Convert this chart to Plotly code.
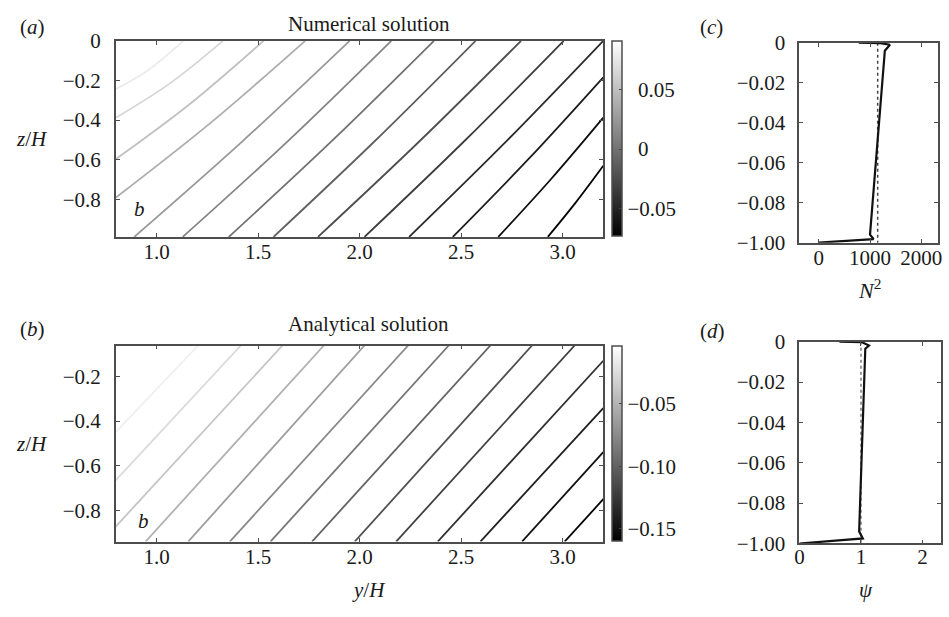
import plotly.graph_objects as go
from plotly.colors import sample_colorscale

W, H = 949, 617
FONT = "Liberation Serif, Times New Roman, serif"
FS = 21
INK = "#1a1a1a"
FRAME = "#4d4d4d"
GRAYS = [[0.0, "rgb(0,0,0)"], [1.0, "rgb(255,255,255)"]]

# ---------------- data ----------------
# (a) numerical solution: buoyancy contour levels and their traced paths (y/H, z/H)
num_levels = [0.080, 0.0685, 0.057, 0.0455, 0.034, 0.0225, 0.011,
              -0.0005, -0.012, -0.0235, -0.035, -0.0465, -0.058, -0.0695]
num_x = [[0.800, 0.953, 1.132], [0.800, 1.064, 1.327], [0.800, 1.164, 1.527],
         [0.800, 1.266, 1.732], [0.890, 1.420, 1.951], [1.129, 1.643, 2.156],
         [1.356, 1.861, 2.366], [1.576, 2.074, 2.571], [1.795, 2.295, 2.795],
         [2.024, 2.515, 3.005], [2.244, 2.722, 3.200], [2.459, 2.830, 3.200],
         [2.683, 2.942, 3.200], [2.927, 3.064, 3.200]]
num_z = [[-0.243, -0.152, 0.0], [-0.388, -0.216, 0.0], [-0.597, -0.319, 0.0],
         [-0.791, -0.414, 0.0], [-0.990, -0.510, 0.0], [-0.990, -0.510, 0.0],
         [-0.990, -0.508, 0.0], [-0.990, -0.507, 0.0], [-0.990, -0.507, 0.0],
         [-0.990, -0.507, 0.0], [-0.990, -0.508, 0.0], [-0.990, -0.599, -0.184],
         [-0.990, -0.699, -0.388], [-0.990, -0.817, -0.631]]
num_crange = [-0.073, 0.091]
num_cticks = [-0.05, 0.0, 0.05]
num_cticktext = ["\u22120.05", "\u20020", "\u20020.05"]

# (b) analytical solution: straight buoyancy contours
ana_levels = [-0.012, -0.023, -0.034, -0.045, -0.056, -0.067, -0.078,
              -0.089, -0.100, -0.111, -0.122, -0.133, -0.144, -0.155]
ana_x = [[0.800, 1.205], [0.800, 1.415], [0.800, 1.620], [0.946, 1.824],
         [1.156, 2.024], [1.361, 2.239], [1.561, 2.439], [1.766, 2.644],
         [1.976, 2.849], [2.180, 3.059], [2.385, 3.200], [2.595, 3.200],
         [2.800, 3.200], [3.010, 3.200]]
ana_z = [[-0.449, -0.063], [-0.664, -0.063], [-0.870, -0.063], [-0.938, -0.063],
         [-0.938, -0.063], [-0.938, -0.063], [-0.938, -0.063], [-0.938, -0.063],
         [-0.938, -0.063], [-0.938, -0.063], [-0.938, -0.131], [-0.938, -0.342],
         [-0.938, -0.539], [-0.938, -0.749]]
ana_crange = [-0.160, -0.004]
ana_cticks = [-0.15, -0.10, -0.05]
ana_cticktext = ["\u22120.15", "\u22120.10", "\u22120.05"]

yh_ticks = [1.0, 1.5, 2.0, 2.5, 3.0]
yh_ticktext = ["1.0", "1.5", "2.0", "2.5", "3.0"]
zh_ticks = [0.0, -0.2, -0.4, -0.6, -0.8]
zh_ticktext = ["0", "\u22120.2", "\u22120.4", "\u22120.6", "\u22120.8"]

# (c) stratification profile N^2(z) and its reference value
n2_z = [0.0, -0.002, -0.010, -0.040, -0.960, -0.982, -1.0]
n2_val = [780, 1200, 1390, 1290, 1000, 1070, 0]
n2_ref = 1150
n2_ticks = [0, 1000, 2000]

# (d) psi(z) profile and its reference value
psi_z = [0.0, -0.003, -0.019, -0.035, -0.940, -0.975, -1.0]
psi_val = [0.65, 1.02, 1.13, 1.07, 0.97, 1.03, 0.0]
psi_ref = 1.0
psi_ticks = [0, 1, 2]

prof_zticks = [0.0, -0.2, -0.4, -0.6, -0.8, -1.0]
prof_zticktext = ["0", "\u22120.02", "\u22120.04", "\u22120.06", "\u22120.08", "\u22121.00"]


def px(x):
    return x / W


def py(y):
    return 1 - y / H


fig = go.Figure()


def add_contours(levels, xs, zs, crange, xa, ya, spline):
    span = crange[1] - crange[0]
    for lev, xx, zz in zip(levels, xs, zs):
        # thin lines read lighter than the bar, so sample a touch darker
        t = ((lev - crange[0]) / span) ** 1.2
        col = sample_colorscale(GRAYS, [t])[0]
        fig.add_trace(go.Scatter(
            x=xx, y=zz, mode="lines", xaxis=xa, yaxis=ya,
            line=dict(color=col, width=1.8,
                      shape="spline" if spline else "linear", smoothing=1.0),
            hoverinfo="skip", showlegend=False))


def add_colorbar(crange, ticks, ticktext, xa, ya, top_px, len_px):
    fig.add_trace(go.Scatter(
        x=[2.0, 2.0], y=[-0.5, -0.5], mode="markers", xaxis=xa, yaxis=ya,
        marker=dict(size=1, opacity=0, color=crange, cmin=crange[0], cmax=crange[1],
                    colorscale=GRAYS, showscale=True,
                    colorbar=dict(
                        x=px(613), xanchor="left", xpad=0,
                        y=py(top_px), yanchor="top", ypad=0,
                        len=len_px / H, lenmode="fraction", thickness=10,
                        outlinecolor=FRAME, outlinewidth=1.5,
                        tickvals=ticks, ticktext=ticktext,
                        ticks="inside", ticklen=3, tickcolor="#444",
                        tickfont=dict(family=FONT, size=FS, color=INK))),
        hoverinfo="skip", showlegend=False))


add_contours(num_levels, num_x, num_z, num_crange, "x", "y", True)
add_colorbar(num_crange, num_cticks, num_cticktext, "x", "y", 30, 203)
add_contours(ana_levels, ana_x, ana_z, ana_crange, "x2", "y2", False)
add_colorbar(ana_crange, ana_cticks, ana_cticktext, "x2", "y2", 348, 203)

# profiles
fig.add_trace(go.Scatter(x=[n2_ref, n2_ref], y=[0.0, -1.0], mode="lines", xaxis="x3", yaxis="y3",
                         line=dict(color="#444", width=1.5, dash="dot"),
                         hoverinfo="skip", showlegend=False))
fig.add_trace(go.Scatter(x=n2_val, y=n2_z, mode="lines", xaxis="x3", yaxis="y3",
                         line=dict(color="#111", width=2.2),
                         hoverinfo="skip", showlegend=False))
fig.add_trace(go.Scatter(x=[psi_ref, psi_ref], y=[0.0, -1.0], mode="lines", xaxis="x4", yaxis="y4",
                         line=dict(color="#777", width=1.5, dash="dot"),
                         hoverinfo="skip", showlegend=False))
fig.add_trace(go.Scatter(x=psi_val, y=psi_z, mode="lines", xaxis="x4", yaxis="y4",
                         line=dict(color="#111", width=2.2),
                         hoverinfo="skip", showlegend=False))

axis_common = dict(showline=True, linecolor=FRAME, linewidth=1.8, mirror="ticks",
                   ticks="inside", ticklen=4, tickcolor=FRAME, tickwidth=1,
                   showgrid=False, zeroline=False,
                   tickfont=dict(family=FONT, size=FS, color=INK))
XSO = -5
YSO = 9

fig.update_layout(
    width=W, height=H, margin=dict(l=0, r=0, t=0, b=0),
    paper_bgcolor="white", plot_bgcolor="white", showlegend=False,
    xaxis=dict(axis_common, domain=[px(112), px(604)], range=[0.8, 3.2], anchor="y",
               tickvals=yh_ticks, ticktext=yh_ticktext, ticklabelstandoff=XSO),
    yaxis=dict(axis_common, domain=[py(234), py(30)], range=[-0.99, 0.0], anchor="x",
               tickvals=zh_ticks, ticktext=zh_ticktext, ticklabelstandoff=YSO),
    xaxis2=dict(axis_common, domain=[px(112), px(604)], range=[0.8, 3.2], anchor="y2",
                tickvals=yh_ticks, ticktext=yh_ticktext, ticklabelstandoff=XSO),
    yaxis2=dict(axis_common, domain=[py(551), py(347)], range=[-0.938, -0.063], anchor="x2",
                tickvals=zh_ticks[1:], ticktext=zh_ticktext[1:], ticklabelstandoff=YSO),
    xaxis3=dict(axis_common, domain=[px(802), px(942)], range=[-380, 2330], anchor="y3",
                tickvals=n2_ticks, ticktext=[str(v) for v in n2_ticks], ticklabelstandoff=XSO),
    yaxis3=dict(axis_common, domain=[py(240), py(32)], range=[-1.0, 0.0], anchor="x3",
                tickvals=prof_zticks, ticktext=prof_zticktext, ticklabelstandoff=YSO - 1),
    xaxis4=dict(axis_common, domain=[px(802), px(945)], range=[0.0, 2.3], anchor="y4",
                tickvals=psi_ticks, ticktext=[str(v) for v in psi_ticks], ticklabelstandoff=XSO - 2),
    yaxis4=dict(axis_common, domain=[py(553), py(343)], range=[-1.0, 0.0], anchor="x4",
                tickvals=prof_zticks, ticktext=prof_zticktext, ticklabelstandoff=YSO - 1),
)


def label(text, x, y, size=FS, xanchor="center"):
    fig.add_annotation(text=text, x=px(x), y=py(y), xref="paper", yref="paper",
                       xanchor=xanchor, yanchor="middle", showarrow=False,
                       font=dict(family=FONT, size=size, color=INK))


label("(<i>a</i>)", 28, 16)
label("(<i>b</i>)", 28, 330)
label("(<i>c</i>)", 713, 16)
label("(<i>d</i>)", 714, 332)
label("Numerical solution", 367, 13)
label("Analytical solution", 367, 325)
label("<i>z</i>/<i>H</i>", 27, 132)
label("<i>z</i>/<i>H</i>", 27, 450)
label("<i>y</i>/<i>H</i>", 367, 601)
label("<i>N</i><sup>2</sup>", 873, 288, size=22)
label("<i>\u03c8</i>", 869, 601)
label("<i>b</i>", 136, 205)
label("<i>b</i>", 140, 530)

fig.write_html("out.html")
